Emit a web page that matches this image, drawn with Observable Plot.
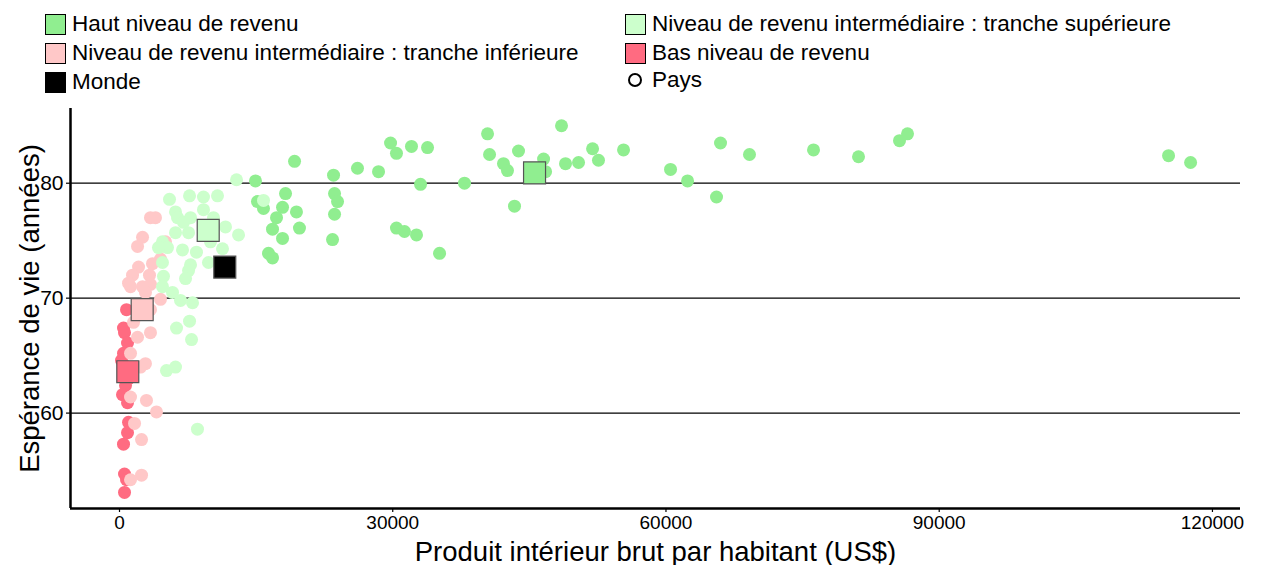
<!DOCTYPE html>
<html>
<head>
<meta charset="utf-8">
<script src="https://cdn.jsdelivr.net/npm/d3@7"></script>
<script src="https://cdn.jsdelivr.net/npm/@observablehq/plot@0.6"></script>
<style>
  html, body { margin: 0; padding: 0; background: #fff; }
  body { width: 1262px; height: 565px; position: relative; font-family: "Liberation Sans", Arial, sans-serif; }
  #legend { position: relative; height: 100px; width: 1262px; }
  .item { position: absolute; display: flex; align-items: center; font-size: 22.5px; color: #000; white-space: nowrap; }
  .sw { width: 21px; height: 21px; border: 1.5px solid #000; box-sizing: border-box; margin-right: 6px; }
  .circ { width: 14px; height: 14px; border: 2.5px solid #000; border-radius: 50%; box-sizing: border-box; margin: 0 10px 0 3px; }
</style>
</head>
<body>
<div id="legend"></div>
<div id="chart"></div>
<script>
// ---- Data ----
const groupNames = [
  "Haut niveau de revenu",
  "Niveau de revenu intermédiaire : tranche supérieure",
  "Niveau de revenu intermédiaire : tranche inférieure",
  "Bas niveau de revenu",
  "Monde"
];
const groupColors = ["#90EE90", "#CCFFCC", "#FFC8C8", "#FF6B81", "#000000"];

const highGdp = [14930,15150,15810,18230,17900,19430,17240,16800,17900,19760,16360,16800,19220,23500,26130,23610,23940,23610,23390,28440,29760,30410,32060,33820,30410,31290,32610,33050,35140,37880,40410,40630,42160,42600,43810,43370,46560,46780,48530,48970,50400,51940,52590,55340,60500,62370,65990,65550,69170,76200,81140,85640,86520,115180,117600];
const highLife = [80.2,78.4,77.8,79.1,77.9,77.5,77.0,76.0,75.2,76.1,73.9,73.5,81.9,80.7,81.3,79.1,78.4,77.3,75.1,81.0,83.5,82.6,83.2,83.1,76.1,75.8,75.5,79.9,73.9,80.0,84.3,82.5,81.7,81.1,82.8,78.0,82.1,81.0,85.0,81.7,81.8,83.0,82.0,82.9,81.2,80.2,83.5,78.8,82.5,82.9,82.3,83.7,84.3,82.4,81.8];

const upperGdp = [12850,15810,5490,7690,9220,10760,6150,6370,7800,9220,10320,7030,6150,7580,11640,13070,4720,5270,4280,6920,8450,9990,11310,9770,7800,4720,4830,7580,7250,4720,5820,6700,8020,7690,6260,7910,5160,6150,8560];
const upperLife = [80.3,78.5,78.6,78.9,78.8,78.9,77.5,77.0,77.0,77.7,77.0,76.6,75.7,75.7,76.2,75.5,74.9,74.4,74.4,74.2,74.0,74.9,74.3,73.1,72.9,73.1,71.9,72.4,71.7,71.0,70.5,69.8,69.6,68.0,67.4,66.4,63.7,64.0,58.6];

const lowerGdp = [3400,3950,2530,1980,4500,3620,2090,1430,3290,1210,2530,3400,4500,2850,5050,990,3400,1980,1540,3400,1980,1210,2850,2310,1210,2960,4060,1650,2420,2420,1210];
const lowerLife = [77.0,77.0,75.3,74.5,73.4,73.0,72.7,72.0,72.0,71.0,71.0,71.2,69.9,70.5,74.9,71.3,69.0,68.5,67.9,67.0,66.6,65.2,64.3,64.0,61.4,61.1,60.1,59.1,57.7,54.6,54.2];

const lowGdp = [770,440,550,880,440,220,440,550,990,660,330,880,990,880,440,550,770,550];
const lowLife = [69.0,67.4,67.0,66.1,65.2,64.6,64.2,63.7,63.0,62.4,61.6,60.9,59.2,58.3,57.3,54.7,54.2,53.1];

// aggregates: high, upper-middle, lower-middle, low, world
const aggGdp = [45570, 9740, 2490, 910, 11560];
const aggLife = [80.9, 75.9, 69.0, 63.6, 72.7];

const xTicks = [0, 30000, 60000, 90000, 120000];
const yTicks = [60, 70, 80];
const xTitle = "Produit intérieur brut par habitant (US$)";
const yTitle = "Espérance de vie (années)";

// ---- Build tables ----
const toRows = (gx, gy, g) => gx.map((x, i) => ({x, y: gy[i], g}));
const highRows = toRows(highGdp, highLife, 0);
const upperRows = toRows(upperGdp, upperLife, 1);
const lowerRows = toRows(lowerGdp, lowerLife, 2);
const lowRows = toRows(lowGdp, lowLife, 3);
const aggRows = aggGdp.map((x, i) => ({x, y: aggLife[i], g: i}));

// ---- Legend (HTML) ----
const legend = document.getElementById("legend");
const legendItems = [
  {name: groupNames[0], color: groupColors[0], left: 45, top: 24},
  {name: groupNames[2], color: groupColors[2], left: 45, top: 53},
  {name: groupNames[4], color: groupColors[4], left: 45, top: 82},
  {name: groupNames[1], color: groupColors[1], left: 625, top: 24},
  {name: groupNames[3], color: groupColors[3], left: 625, top: 53}
];
for (const it of legendItems) {
  const d = document.createElement("div");
  d.className = "item";
  d.style.left = it.left + "px";
  d.style.top = (it.top - 13) + "px";
  d.style.height = "26px";
  d.innerHTML = `<span class="sw" style="background:${it.color}"></span><span>${it.name}</span>`;
  legend.appendChild(d);
}
{
  const d = document.createElement("div");
  d.className = "item";
  d.style.left = "625px";
  d.style.top = (80 - 13) + "px";
  d.style.height = "26px";
  d.innerHTML = `<span class="circ"></span><span>Pays</span>`;
  legend.appendChild(d);
}

// ---- Plot ----
const xDomain = [-5380, 123080];
const yDomain = [51.7, 86.5];
const col = d => groupColors[d.g];

const chart = Plot.plot({
  width: 1262,
  height: 465,
  marginTop: 8,
  marginBottom: 57,
  marginLeft: 70,
  marginRight: 22,
  style: {fontFamily: "'Liberation Sans', Arial, sans-serif", color: "#000", background: "#fff", overflow: "visible"},
  x: {domain: xDomain},
  y: {domain: yDomain},
  marks: [
    Plot.ruleY(yTicks, {stroke: "#000", strokeWidth: 1.2}),
    Plot.axisX({ticks: xTicks, tickFormat: d => String(d), tickSize: 4, tickPadding: 3, fontSize: 19, label: null, strokeWidth: 1.2}),
    Plot.axisY({ticks: yTicks, tickSize: 4, tickPadding: 3, fontSize: 21, label: null, strokeWidth: 1.2}),
    Plot.ruleY([yDomain[0]], {stroke: "#000", strokeWidth: 2.5}),
    Plot.ruleX([xDomain[0]], {stroke: "#000", strokeWidth: 2.5}),
    Plot.dot(highRows, {x: "x", y: "y", r: 6.5, fill: col, stroke: null}),
    Plot.dot(lowRows, {x: "x", y: "y", r: 6.5, fill: col, stroke: null}),
    Plot.dot(lowerRows, {x: "x", y: "y", r: 6.5, fill: col, stroke: null}),
    Plot.dot(upperRows, {x: "x", y: "y", r: 6.5, fill: col, stroke: null}),
    Plot.dot(aggRows, {x: "x", y: "y", symbol: "square", r: 12.4, fill: col, stroke: "#555", strokeWidth: 1.2}),
    Plot.text([xTitle], {frameAnchor: "bottom", dy: 44, text: d => d, fontSize: 27.5, textAnchor: "middle", lineAnchor: "middle", fill: "#000"}),
    Plot.text([yTitle], {frameAnchor: "left", dx: -40, rotate: -90, text: d => d, fontSize: 27.5, textAnchor: "middle", lineAnchor: "middle", fill: "#000"})
  ]
});
document.getElementById("chart").appendChild(chart);
</script>
</body>
</html>
